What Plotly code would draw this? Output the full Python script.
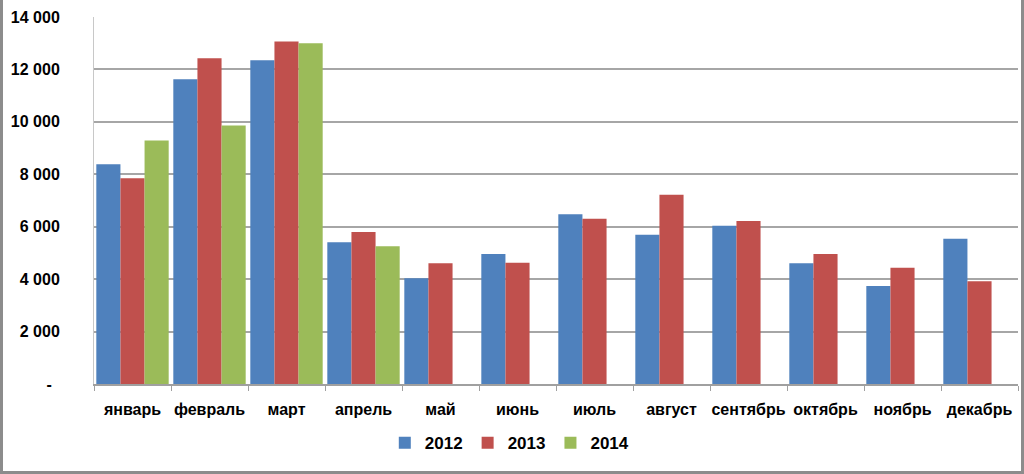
import plotly.graph_objects as go

months = ["январь", "февраль", "март", "апрель", "май", "июнь", "июль",
          "август", "сентябрь", "октябрь", "ноябрь", "декабрь"]
series_names = ["2012", "2013", "2014"]
values_2012 = [8385, 11630, 12350, 5410, 4035, 4960, 6475, 5690, 6040, 4605, 3740, 5545]
values_2013 = [7850, 12430, 13065, 5800, 4605, 4630, 6300, 7215, 6220, 4960, 4430, 3920]
values_2014 = [9290, 9860, 13000, 5255, None, None, None, None, None, None, None, None]
colors = ["#4F81BD", "#C0504D", "#9BBB59"]
y_tickvals = [0, 2000, 4000, 6000, 8000, 10000, 12000, 14000]
y_ticktext = ["-\u2002", "2 000", "4 000", "6 000", "8 000", "10 000", "12 000", "14 000"]

FONT = "Liberation Sans, Arial, sans-serif"

fig = go.Figure()
for name, vals, col in zip(series_names, [values_2012, values_2013, values_2014], colors):
    fig.add_trace(go.Bar(x=months, y=vals, name=name, marker_color=col,
                         marker_line_width=0))

fig.update_layout(
    width=1024, height=474,
    margin=dict(l=94, r=6, t=17, b=90, autoexpand=False),
    paper_bgcolor="white", plot_bgcolor="white",
    barmode="group", bargap=0.06, bargroupgap=0,
    font=dict(family=FONT, size=15, color="#000000"),
    showlegend=True,
    legend=dict(orientation="h", x=0.45, xanchor="center", y=-0.161, yanchor="middle",
                font=dict(family=FONT, size=17, color="#000000", weight="bold"),
                itemwidth=30, bgcolor="rgba(0,0,0,0)"),
)
fig.update_xaxes(
    type="category", showline=True, linecolor="#A0A0A0", linewidth=1.5,
    ticks="outside", tickson="boundaries", ticklen=5, tickcolor="#A0A0A0",
    tickfont=dict(family=FONT, size=16, color="#000000", weight="bold"),
    tickangle=0, automargin=False,
    ticklabelstandoff=10, showgrid=False, mirror=False,
)
fig.update_yaxes(
    range=[0, 14000], tickvals=y_tickvals, ticktext=y_ticktext,
    showgrid=True, gridcolor="#A6A6A6", gridwidth=1.5,
    showline=True, linecolor="#C8C8C8", linewidth=1,
    ticks="", zeroline=False, automargin=False,
    tickfont=dict(family=FONT, size=16, color="#000000", weight="bold"),
    ticklabelstandoff=30,
)
# outer frame (left, right, bottom)
fig.add_shape(type="line", xref="paper", yref="paper",
              x0=-94/924 + 1.5/924, x1=-94/924 + 1.5/924, y0=-90/367, y1=(474)/367,
              line=dict(color="#8C8C8C", width=3))
fig.add_shape(type="line", xref="paper", yref="paper",
              x0=1 + 4.5/924, x1=1 + 4.5/924, y0=-90/367, y1=(474)/367,
              line=dict(color="#8C8C8C", width=3))
fig.add_shape(type="line", xref="paper", yref="paper",
              x0=-94/924, x1=1 + 6/924, y0=-88.5/367, y1=-88.5/367,
              line=dict(color="#8C8C8C", width=3))

fig.write_html("out.html")
